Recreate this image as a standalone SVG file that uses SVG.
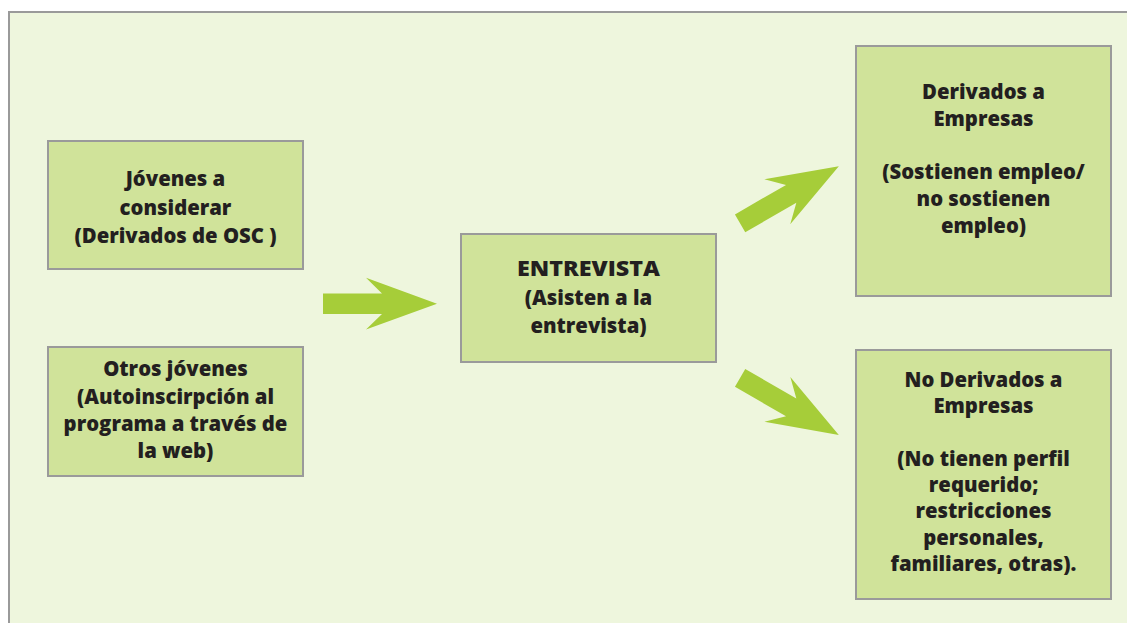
<svg xmlns="http://www.w3.org/2000/svg" xmlns:xlink="http://www.w3.org/1999/xlink" width="1127" height="623" viewBox="0 0 1127 623">
<style>
.box{fill:#d0e39a;stroke:#9a9a9a;stroke-width:2}
.t{font-family:"Open Sans","Noto Sans","Liberation Sans",sans-serif;font-weight:800;font-size:20.3px;fill:#231f20;text-anchor:middle}
.arr{fill:#a6cd39}
</style>
<defs>
<polygon id="arrow" points="0,-10.3 59,-10.3 43,-26 114,0 43,25.8 59,10.3 0,10.3"/>
</defs>
<rect x="0" y="0" width="1127" height="623" fill="#ffffff"/>
<rect x="9" y="12" width="1130" height="620" fill="#eef6dd" stroke="#9a9a9a" stroke-width="2"/>
<g id="connectors" class="arr">
<use xlink:href="#arrow" href="#arrow" transform="translate(323,303.7)"/>
<use xlink:href="#arrow" href="#arrow" transform="translate(740.1,223.3) rotate(-30)"/>
<use xlink:href="#arrow" href="#arrow" transform="translate(740.1,377.9) rotate(30)"/>
</g>
<g id="jovenes">
<rect class="box" x="48" y="141" width="255" height="128"/>
<text class="t"><tspan x="175.5" y="186">Jóvenes a</tspan><tspan x="175.5" y="214.5">considerar</tspan><tspan x="175.5" y="243">(Derivados de OSC )</tspan></text>
</g>
<g id="otros">
<rect class="box" x="48" y="347" width="255" height="129"/>
<text class="t"><tspan x="175.5" y="376">Otros jóvenes</tspan><tspan x="175.5" y="403.5">(Autoinscirpción al</tspan><tspan x="175.5" y="431">programa a través de</tspan><tspan x="175.5" y="458">la web)</tspan></text>
</g>
<g id="entrevista">
<rect class="box" x="461" y="234" width="255" height="128"/>
<text class="t"><tspan x="588.5" y="276" textLength="143" lengthAdjust="spacingAndGlyphs">ENTREVISTA</tspan><tspan x="588.5" y="304.5">(Asisten a la</tspan><tspan x="588.5" y="333">entrevista)</tspan></text>
</g>
<g id="derivados">
<rect class="box" x="856" y="46" width="255" height="250"/>
<text class="t"><tspan x="983.5" y="99.3">Derivados a</tspan><tspan x="983.5" y="126">Empresas</tspan><tspan x="983.5" y="179.3">(Sostienen empleo/</tspan><tspan x="983.5" y="206">no sostienen</tspan><tspan x="983.5" y="232.7">empleo)</tspan></text>
</g>
<g id="noderivados">
<rect class="box" x="856" y="350" width="255" height="249"/>
<text class="t"><tspan x="983.5" y="386.7">No Derivados a</tspan><tspan x="983.5" y="413">Empresas</tspan><tspan x="983.5" y="465.6">(No tienen perfil</tspan><tspan x="983.5" y="492">requerido;</tspan><tspan x="983.5" y="518.3">restricciones</tspan><tspan x="983.5" y="544.6">personales,</tspan><tspan x="983.5" y="571">familiares, otras).</tspan></text>
</g>
</svg>
